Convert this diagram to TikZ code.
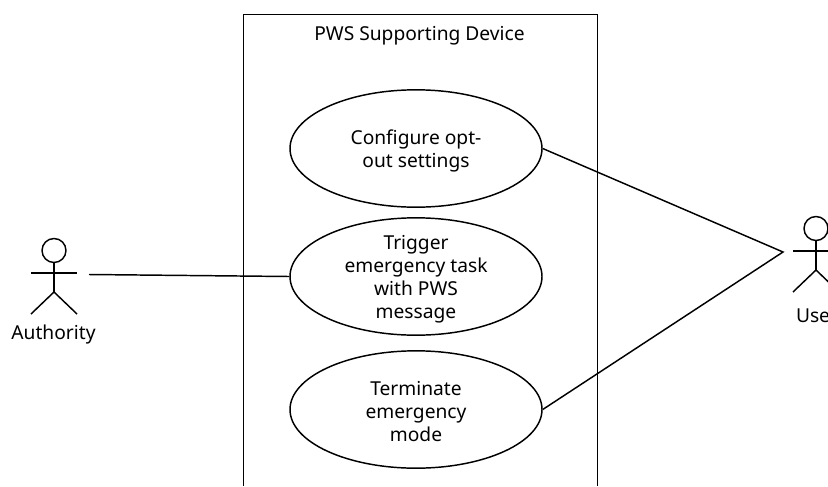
\documentclass[tikz,border=0pt]{standalone}
\usepackage{fontspec}
\setmainfont{Noto Sans}
\usetikzlibrary{shapes.geometric}
\tikzset{
 uc/.style={draw,ellipse,line width=1.1pt,minimum width=189pt,minimum height=88pt,inner sep=0pt},
 uct/.style={label={[align=center,inner sep=0pt,yshift=-1.8pt,font=\fontsize{14.4}{17.2}\selectfont]center:#1}},
 lbl/.style={font=\fontsize{14.4}{17}\selectfont,inner sep=0pt},
 ln/.style={line width=1.1pt}
}
\begin{document}
\begin{tikzpicture}[x=0.75pt,y=-0.75pt,line width=1.1pt]
\useasboundingbox (0,0) rectangle (828,486);
\clip (0,0) rectangle (828,486);
\draw[ln] (243.5,486) -- (243.5,14.5) -- (597.5,14.5) -- (597.5,486);
\node[lbl] (title) at (419.5,36) {PWS Supporting Device};
\node[uc,uct={Configure opt-\\out settings}] (a) at (416,148.5) {};
\node[uc,uct={Trigger\\emergency task\\with PWS\\message}] (b) at (416,276.5) {};
\node[uc,uct={Terminate\\emergency\\mode}] (c) at (416,409.5) {};
\draw[ln] (54,250.5) circle (12);
\coordinate (ah) at (54,262.5);\coordinate (ahip) at (54,292);
\draw[ln] (ah) -- (ahip);
\draw[ln] (31,273) -- (77,273);
\draw[ln] (31,314) -- (ahip) -- (77,314);
\node[lbl] (auth) at (53.5,335) {Authority};
\draw[ln] (816,228.5) circle (12);
\coordinate (uh) at (816,240.5);\coordinate (uhip) at (816,270);
\draw[ln] (uh) -- (uhip);
\draw[ln] (793,251) -- (839,251);
\draw[ln] (793,292) -- (uhip) -- (839,292);
\node[lbl] (user) at (817,316) {User};
\coordinate (p1) at (89,274.5);
\coordinate (p2) at (783,252);
\draw[ln] (p1) -- (b.west);
\draw[ln] (a.east) -- (p2) -- (c.east);
\end{tikzpicture}
\end{document}
